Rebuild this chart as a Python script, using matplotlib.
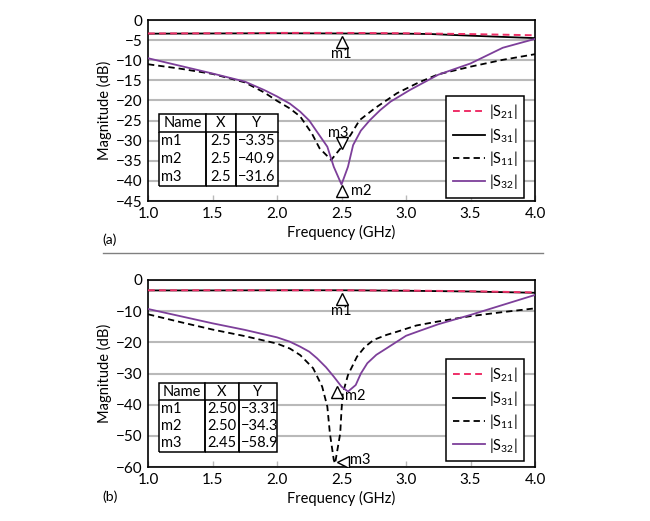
import matplotlib
matplotlib.use("Agg")
import matplotlib.pyplot as plt
from matplotlib.patches import Rectangle
from matplotlib.transforms import offset_copy

plt.rcParams['font.family'] = ['Lato', 'DejaVu Sans']
plt.rcParams['mathtext.default'] = 'regular'
plt.rcParams['font.size'] = 10.5

### DATA ###

# panel (a)
a_f21 = [1.0, 1.5, 2.0, 2.5, 3.0, 3.5, 4.0]
a_s21 = [-3.35, -3.3, -3.2, -3.2, -3.3, -3.5, -3.8]
a_f31 = [1.0, 1.5, 2.0, 2.5, 3.0, 3.2, 3.5, 4.0]
a_s31 = [-3.4, -3.35, -3.3, -3.35, -3.4, -3.5, -3.9, -4.5]
a_f11 = [1.0, 1.25, 1.5, 1.75, 1.9, 2.0, 2.1, 2.18, 2.27, 2.33, 2.42, 2.5, 2.57, 2.64, 2.76, 2.93, 3.1, 3.25, 3.5, 3.75, 4.0]
a_s11 = [-11.0, -12.1, -13.4, -15.5, -18.0, -20.1, -22.0, -24.0, -28.2, -31.9, -34.8, -31.6, -28.6, -24.9, -21.9, -18.2, -15.5, -13.5, -11.6, -9.9, -8.5]
a_f32 = [1.0, 1.25, 1.5, 1.75, 1.9, 2.0, 2.1, 2.18, 2.25, 2.31, 2.39, 2.44, 2.5, 2.55, 2.59, 2.65, 2.72, 2.8, 2.88, 3.03, 3.25, 3.5, 3.75, 4.0]
a_s32 = [-9.5, -11.4, -13.3, -15.3, -17.4, -19.0, -20.8, -22.8, -25.0, -27.8, -31.5, -36.5, -40.9, -36.5, -31.1, -27.5, -24.9, -22.4, -20.3, -17.4, -13.6, -10.8, -6.9, -4.7]

# panel (b)
b_f21 = [1.0, 1.5, 2.0, 2.5, 3.0, 3.5, 4.0]
b_s21 = [-3.3, -3.3, -3.3, -3.3, -3.4, -3.6, -4.0]
b_f31 = [1.0, 1.5, 2.0, 2.5, 3.0, 3.5, 4.0]
b_s31 = [-3.35, -3.35, -3.3, -3.3, -3.45, -3.7, -4.1]
b_f11 = [1.0, 1.25, 1.5, 1.75, 2.0, 2.1, 2.18, 2.28, 2.35, 2.39, 2.41, 2.44, 2.45, 2.49, 2.5, 2.51, 2.55, 2.62, 2.68, 2.75, 2.85, 2.93, 3.08, 3.25, 3.5, 3.75, 4.0]
b_s11 = [-11.0, -13.5, -15.9, -18.0, -20.4, -22.0, -24.1, -28.3, -34.2, -40.6, -49.2, -57.7, -58.9, -49.2, -41.7, -36.4, -30.5, -24.6, -21.5, -19.2, -17.6, -16.6, -14.6, -13.3, -11.6, -10.3, -9.1]
b_f32 = [1.0, 1.25, 1.5, 1.75, 2.0, 2.1, 2.18, 2.25, 2.31, 2.38, 2.44, 2.5, 2.55, 2.61, 2.65, 2.7, 2.77, 2.85, 3.0, 3.1, 3.25, 3.5, 3.75, 4.0]
b_s32 = [-9.3, -11.6, -13.9, -16.0, -18.4, -19.8, -21.4, -23.0, -25.1, -28.0, -31.0, -34.2, -35.8, -33.7, -30.0, -26.7, -24.0, -21.9, -17.9, -16.4, -14.2, -11.2, -8.0, -4.8]

a_names = ['m1', 'm2', 'm3']
a_mx = [2.5, 2.5, 2.5]
a_my = [-3.35, -40.9, -31.6]
b_names = ['m1', 'm2', 'm3']
b_mx = [2.50, 2.50, 2.45]
b_my = [-3.31, -34.3, -58.9]
a_xtxt = ['2.5', '2.5', '2.5']
a_ytxt = ['\u22123.35', '\u221240.9', '\u221231.6']
b_xtxt = ['2.50', '2.50', '2.45']
b_ytxt = ['\u22123.31', '\u221234.3', '\u221258.9']

RED = '#ee2f67'
PURPLE = '#7d3f9a'
GRID = '#b9b9b9'

fig = plt.figure(figsize=(6.5, 5.21), dpi=100)
ax_a = fig.add_axes([0.2277, 0.6142, 0.5954, 0.3474])
ax_b = fig.add_axes([0.2277, 0.1036, 0.5954, 0.3590])


def draw_curves(ax, f21, s21, f31, s31, f11, s11, f32, s32):
    ax.plot(f31, s31, color='black', lw=1.3, zorder=3)
    ax.plot(f21, s21, color=RED, lw=1.4, dashes=(3.5, 2.2), zorder=4)
    ax.plot(f11, s11, color='black', lw=1.3, dashes=(3.5, 2.2), zorder=3)
    ax.plot(f32, s32, color=PURPLE, lw=1.3, zorder=3)
    # legend handles in the original order
    h = [plt.Line2D([], [], color=RED, lw=1.4, dashes=(3.5, 2.2)),
         plt.Line2D([], [], color='black', lw=1.3),
         plt.Line2D([], [], color='black', lw=1.3, dashes=(3.5, 2.2)),
         plt.Line2D([], [], color=PURPLE, lw=1.3)]
    labels = ['|S$_{21}$|', '|S$_{31}$|', '|S$_{11}$|', '|S$_{32}$|']
    return h, labels


def style_axes(ax, ylim, ystep):
    ax.set_xlim(1.0, 4.0)
    ax.set_ylim(*ylim)
    ax.set_xticks([1.0, 1.5, 2.0, 2.5, 3.0, 3.5, 4.0])
    ax.set_xticklabels(['1.0', '1.5', '2.0', '2.5', '3.0', '3.5', '4.0'])
    yt = list(range(0, ylim[0] - 1, -ystep))
    ax.set_yticks(yt)
    ax.set_yticklabels([str(v).replace('-', '\u2212') for v in yt])
    ax.grid(axis='y', color=GRID, lw=1.5, zorder=0)
    ax.set_axisbelow(True)
    ax.tick_params(axis='x', direction='in', length=4, color=GRID, width=1, pad=4, labelsize=11)
    ax.tick_params(axis='y', length=0, pad=4, labelsize=11)
    for s in ax.spines.values():
        s.set_linewidth(1.2)
    ax.set_xlabel('Frequency (GHz)', fontsize=10.5, labelpad=3)
    ax.set_ylabel('Magnitude (dB)', fontsize=10.5, labelpad=3)


def draw_table(ax, names, xt, yt, bbox, widths):
    # white backing, since cells with open edges are not filled
    ax.add_patch(Rectangle((bbox[0], bbox[1]), bbox[2], bbox[3], transform=ax.transAxes,
                           facecolor='white', edgecolor='none', zorder=5.5))
    rows = [[n, x, y] for n, x, y in zip(names, xt, yt)]
    tb = ax.table(cellText=rows, colLabels=['Name', 'X', 'Y'], bbox=bbox,
                  colWidths=widths, cellLoc='left', zorder=6)
    tb.auto_set_font_size(False)
    tb.set_fontsize(10.5)
    for (r, c), cell in tb.get_celld().items():
        cell.set_linewidth(1.1)
        cell.PAD = 0.05
        if c == 1 or (r == 0 and c > 0):
            cell._loc = 'center'
            cell.get_text().set_horizontalalignment('center')
        if r == 0:
            cell.visible_edges = 'closed'
        elif r == len(rows):
            cell.visible_edges = 'BLR'
        else:
            cell.visible_edges = 'LR'
    return tb


def add_legend(ax, h, labels, anchor):
    leg = ax.legend(h, labels, loc='upper left', bbox_to_anchor=anchor, fontsize=10.5,
                    frameon=True, fancybox=False, edgecolor='black', framealpha=1,
                    handlelength=2.2, handletextpad=0.3, labelspacing=0.3, borderpad=0.45)
    leg.get_frame().set_linewidth(1.1)
    leg.set_zorder(7)


style_axes(ax_a, (-45, 0), 5)
h, labels = draw_curves(ax_a, a_f21, a_s21, a_f31, a_s31, a_f11, a_s11, a_f32, a_s32)
add_legend(ax_a, h, labels, (0.752, 0.622))
draw_table(ax_a, a_names, a_xtxt, a_ytxt, [0.028, 0.083, 0.3075, 0.398], [0.395, 0.252, 0.353])

style_axes(ax_b, (-60, 0), 10)
h, labels = draw_curves(ax_b, b_f21, b_s21, b_f31, b_s31, b_f11, b_s11, b_f32, b_s32)
add_legend(ax_b, h, labels, (0.752, 0.617))
draw_table(ax_b, b_names, b_xtxt, b_ytxt, [0.028, 0.080, 0.305, 0.369], [0.39, 0.288, 0.322])

# markers (panel a)
ms = 9
mk = dict(ms=ms, mfc='white', mec='black', mew=1.0, ls='none', zorder=5)
ax_a.plot([a_mx[0]], [a_my[0]], '^', transform=offset_copy(ax_a.transData, fig, 0, -9, units='dots'), **mk)
ax_a.plot([a_mx[1]], [a_my[1]], '^', transform=offset_copy(ax_a.transData, fig, 0, -6, units='dots'), **mk)
ax_a.plot([a_mx[2]], [a_my[2]], 'v', transform=offset_copy(ax_a.transData, fig, 0, 4, units='dots'), **mk)
ax_a.annotate('m1', (a_mx[0], a_my[0]), xytext=(0, -21), textcoords='offset pixels', ha='center', va='center', fontsize=10.5)
ax_a.annotate('m2', (a_mx[1], a_my[1]), xytext=(9, -6), textcoords='offset pixels', ha='left', va='center', fontsize=10.5)
ax_a.annotate('m3', (a_mx[2], a_my[2]), xytext=(-3, 14), textcoords='offset pixels', ha='center', va='center', fontsize=10.5)

# markers (panel b)
ax_b.plot([b_mx[0]], [b_my[0]], '^', transform=offset_copy(ax_b.transData, fig, 0, -9, units='dots'), **mk)
ax_b.plot([b_mx[1]], [b_my[1]], '^', transform=offset_copy(ax_b.transData, fig, -5, -5, units='dots'), **mk)
ax_b.plot([b_mx[2]], [b_my[2]], '<', transform=offset_copy(ax_b.transData, fig, 8, 2, units='dots'), **mk)
ax_b.annotate('m1', (b_mx[0], b_my[0]), xytext=(0, -21), textcoords='offset pixels', ha='center', va='center', fontsize=10.5)
ax_b.annotate('m2', (b_mx[1], b_my[1]), xytext=(3, -9), textcoords='offset pixels', ha='left', va='center', fontsize=10.5)
ax_b.annotate('m3', (b_mx[2], b_my[2]), xytext=(15, 4), textcoords='offset pixels', ha='left', va='center', fontsize=10.5)

# panel tags and separator
fig.text(0.158, 0.539, '(a)', fontsize=10, va='center')
fig.text(0.158, 0.046, '(b)', fontsize=10, va='center')
fig.add_artist(plt.Line2D([0.158, 0.835], [0.5144, 0.5144], color='#808080', lw=1.0))

plt.savefig('out.png', dpi=100)
